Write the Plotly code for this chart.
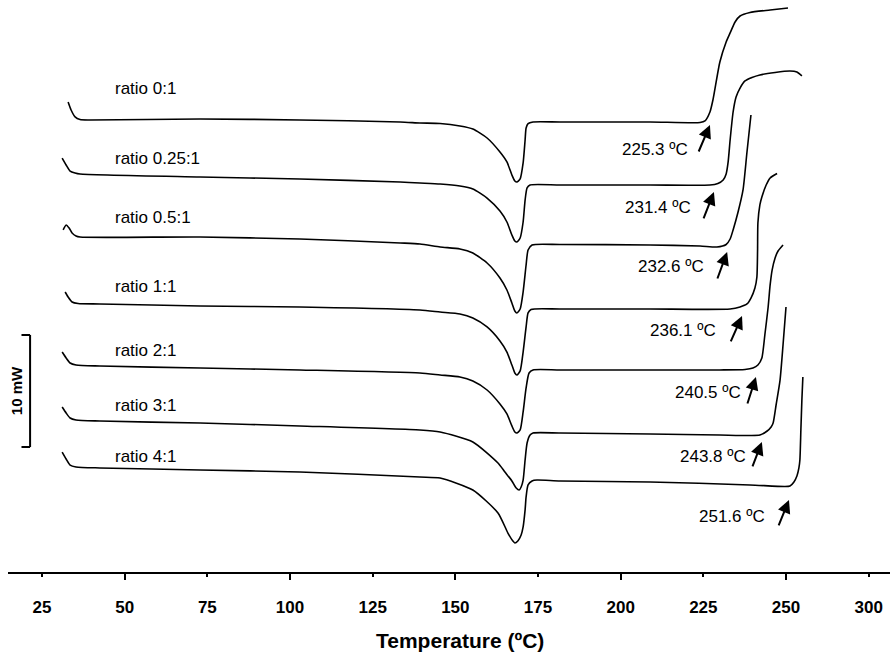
import plotly.graph_objects as go

# ---------------- data (temperature in deg C, heat flow in mW, stacked offsets) ----------------
T_0_1 = [32.9, 33.8, 35.0, 36.5, 39.5, 72.8, 103.0, 133.3, 139.3, 145.4, 151.4, 155.3, 159.6, 163.5,
         165.6, 167.1, 168.0, 168.6, 169.6, 170.5, 171.1, 171.4, 172.0, 173.5, 181.7, 208.9, 224.0,
         225.5, 227.0, 227.9, 230.0, 231.9, 233.1, 234.6, 236.1, 239.1, 245.2, 250.6]
HF_0_1 = [41.96, 41.25, 40.63, 40.40, 40.36, 40.45, 40.36, 40.18, 40.09, 40.04, 39.82, 39.55, 38.75, 37.50,
          36.61, 35.45, 34.91, 34.82, 35.09, 36.52, 38.57, 39.64, 40.04, 40.18, 40.18, 40.18, 40.13,
          40.27, 41.07, 42.14, 45.54, 47.32, 48.13, 49.11, 49.64, 49.96, 50.18, 50.36]

T_025_1 = [31.1, 32.3, 33.5, 35.0, 36.5, 72.8, 103.0, 133.3, 139.3, 145.4, 151.4, 155.3, 159.6, 163.5,
           165.6, 167.1, 168.0, 168.6, 169.6, 170.5, 171.1, 171.7, 172.6, 181.7, 208.9, 227.0, 229.4,
           231.0, 231.9, 232.5, 233.1, 234.0, 234.9, 236.1, 237.6, 239.7, 242.1, 246.7, 251.2, 253.3, 254.8]
HF_025_1 = [36.96, 36.34, 35.80, 35.63, 35.54, 35.27, 35.09, 34.82, 34.73, 34.64, 34.46, 34.20, 33.39, 32.23,
            31.25, 30.09, 29.55, 29.46, 29.82, 31.25, 33.21, 34.29, 34.55, 34.55, 34.55, 34.55, 34.69,
            35.00, 35.54, 36.61, 38.57, 41.07, 42.41, 43.21, 43.84, 44.15, 44.38, 44.60, 44.73, 44.64, 44.29]

T_05_1 = [31.4, 32.3, 33.2, 34.1, 35.3, 36.5, 72.8, 103.0, 133.3, 139.3, 145.4, 151.4, 155.3, 159.6,
          163.5, 165.6, 167.1, 168.0, 168.6, 169.6, 170.5, 171.4, 172.0, 173.2, 181.7, 208.9, 224.0,
          229.1, 231.9, 233.1, 234.0, 235.5, 237.0, 238.2, 239.4]
HF_05_1 = [30.54, 30.98, 30.71, 30.27, 30.00, 29.91, 29.91, 29.73, 29.38, 29.29, 29.02, 28.84, 28.48, 27.59,
           26.25, 25.18, 24.02, 23.30, 23.13, 23.48, 25.00, 27.41, 28.75, 29.20, 29.24, 29.20, 29.11,
           29.02, 29.24, 29.73, 30.54, 32.14, 34.11, 37.50, 40.80]

T_1_1 = [32.0, 32.9, 34.1, 35.9, 42.5, 72.8, 103.0, 139.3, 145.4, 151.4, 155.3, 159.6, 163.5, 165.6,
         167.1, 168.0, 168.6, 169.6, 170.5, 171.4, 172.0, 172.9, 181.7, 208.9, 233.1, 236.1, 238.2,
         239.4, 240.6, 241.2, 241.4, 241.5, 242.1, 242.7, 244.0, 245.2, 247.3]
HF_1_1 = [25.00, 24.55, 24.11, 23.97, 23.93, 23.75, 23.66, 23.39, 23.21, 23.04, 22.68, 21.88, 20.63, 19.64,
          18.48, 17.77, 17.59, 17.95, 19.64, 21.88, 23.13, 23.44, 23.48, 23.48, 23.48, 23.66, 23.93,
          24.46, 25.36, 26.34, 28.75, 31.16, 32.77, 33.48, 34.55, 35.18, 35.58]

T_2_1 = [31.1, 32.3, 33.5, 35.3, 42.5, 72.8, 103.0, 139.3, 145.4, 151.4, 155.3, 159.6, 163.5, 165.6,
         167.1, 168.0, 168.6, 169.6, 170.5, 171.4, 172.3, 173.5, 181.7, 208.9, 230.0, 237.6, 240.0,
         241.5, 242.7, 243.6, 244.6, 245.2, 245.8, 246.7, 247.6, 249.1]
HF_2_1 = [19.64, 19.11, 18.66, 18.48, 18.39, 18.21, 18.04, 17.77, 17.59, 17.41, 17.05, 16.25, 15.00, 14.11,
          13.04, 12.50, 12.41, 12.68, 14.29, 16.43, 17.77, 18.04, 18.04, 18.04, 18.04, 18.08, 18.21,
          18.48, 19.11, 21.16, 23.66, 25.63, 26.96, 28.04, 28.66, 29.20]

T_3_1 = [31.1, 32.3, 33.5, 35.3, 42.5, 72.8, 103.0, 139.3, 145.4, 155.3, 162.9, 165.0, 167.1, 168.4,
         169.3, 169.9, 170.5, 171.1, 171.7, 172.6, 173.5, 181.7, 208.9, 230.0, 239.1, 242.1, 244.3,
         245.5, 246.1, 247.0, 248.2, 249.1, 250.0]
HF_3_1 = [14.73, 14.20, 13.75, 13.57, 13.48, 13.30, 13.04, 12.68, 12.50, 11.61, 9.73, 8.93, 8.13, 7.50,
          7.32, 7.59, 8.21, 10.00, 11.52, 12.23, 12.41, 12.41, 12.32, 12.23, 12.19, 12.23, 12.59,
          12.95, 13.30, 14.91, 17.14, 20.27, 23.66]

T_4_1 = [31.1, 32.3, 33.5, 35.3, 42.5, 72.8, 103.0, 139.3, 145.4, 155.3, 162.9, 165.9, 167.4, 168.0,
         168.9, 169.9, 170.5, 171.1, 171.4, 172.0, 173.2, 174.7, 181.7, 208.9, 239.1, 249.7, 251.2,
         252.4, 253.3, 253.9, 254.2, 254.5, 254.8, 255.1]
HF_4_1 = [10.71, 10.09, 9.55, 9.38, 9.29, 9.11, 8.93, 8.48, 8.39, 7.32, 5.27, 3.48, 2.77, 2.59,
          2.77, 3.30, 4.02, 5.54, 6.70, 7.77, 8.13, 8.21, 8.13, 8.04, 7.77, 7.63, 7.68,
          8.04, 8.57, 9.29, 10.00, 12.68, 15.36, 17.41]

series_T = [T_0_1, T_025_1, T_05_1, T_1_1, T_2_1, T_3_1, T_4_1]
series_HF = [HF_0_1, HF_025_1, HF_05_1, HF_1_1, HF_2_1, HF_3_1, HF_4_1]

ratio_labels = ["ratio 0:1", "ratio 0.25:1", "ratio 0.5:1", "ratio 1:1", "ratio 2:1", "ratio 3:1", "ratio 4:1"]
ratio_label_T = 46.5
ratio_label_HF = [43.21, 36.96, 31.61, 25.45, 19.82, 14.91, 10.27]

onset_text = ["225.3 ºC", "231.4 ºC", "232.6 ºC", "236.1 ºC", "240.5 ºC", "243.8 ºC", "251.6 ºC"]
onset_text_T = [221.0, 221.9, 225.8, 229.4, 237.0, 238.5, 244.3]
onset_text_HF = [37.68, 32.50, 27.32, 21.52, 16.07, 10.27, 5.00]
arrow_tail_T = [223.4, 224.9, 229.1, 233.1, 238.2, 239.7, 247.6]
arrow_tail_HF = [37.41, 31.43, 26.07, 20.45, 14.91, 9.29, 4.02]
arrow_head_T = [227.0, 228.2, 232.2, 236.7, 240.9, 242.7, 250.9]
arrow_head_HF = [39.91, 33.93, 28.57, 22.86, 17.41, 11.61, 6.43]

tick_vals = [25, 50, 75, 100, 125, 150, 175, 200, 225, 250, 275]
tick_text = ["25", "50", "75", "100", "125", "150", "175", "200", "225", "250", "300"]
major_tick_vals = [50, 100, 150, 200, 250]

scale_bar_T = 21.4
scale_bar_HF = [11.16, 21.16]   # 10 mW
scale_bar_label = "10 mW"

x_range = [14.72, 281.45]
y_range = [0, 51.07]

# ---------------- figure ----------------
fig = go.Figure()
for T, HF, name in zip(series_T, series_HF, ratio_labels):
    fig.add_trace(go.Scatter(x=T, y=HF, mode="lines", name=name,
                             line=dict(color="black", width=1.6, shape="spline", smoothing=0.6),
                             showlegend=False, hoverinfo="skip"))

# invisible trace for the overlay axis carrying the long ticks
fig.add_trace(go.Scatter(x=[x_range[0]], y=[y_range[0]], xaxis="x2", mode="markers",
                         marker=dict(opacity=0), showlegend=False, hoverinfo="skip"))

label_font = dict(family="Liberation Sans, Arial, sans-serif", size=17, color="black")
for txt, hf in zip(ratio_labels, ratio_label_HF):
    fig.add_annotation(x=ratio_label_T, y=hf, text=txt, showarrow=False,
                       xanchor="left", yanchor="middle", font=label_font)

for txt, tx, ty, t0, h0, t1, h1 in zip(onset_text, onset_text_T, onset_text_HF,
                                        arrow_tail_T, arrow_tail_HF, arrow_head_T, arrow_head_HF):
    fig.add_annotation(x=tx, y=ty, text=txt, showarrow=False, xanchor="right", yanchor="middle",
                       font=label_font)
    fig.add_annotation(x=t1, y=h1, ax=t0, ay=h0, axref="x", ayref="y", xref="x", yref="y",
                       text="", showarrow=True, arrowhead=2, arrowsize=1.3, arrowwidth=2,
                       arrowcolor="black")

# scale bar
fig.add_shape(type="line", x0=scale_bar_T, x1=scale_bar_T, y0=scale_bar_HF[0], y1=scale_bar_HF[1],
              line=dict(color="black", width=2))
for hf in scale_bar_HF:
    fig.add_shape(type="line", x0=scale_bar_T - 2.6, x1=scale_bar_T, y0=hf, y1=hf,
                  line=dict(color="black", width=2))
fig.add_annotation(x=scale_bar_T - 4.2, y=sum(scale_bar_HF) / 2, text="<b>" + scale_bar_label + "</b>",
                   textangle=-90, showarrow=False, xanchor="center", yanchor="middle",
                   font=dict(family="Liberation Sans, Arial, sans-serif", size=15, color="black"))

# axis title
fig.add_annotation(xref="paper", yref="paper", x=0.5125, y=-0.119, text="<b>Temperature (ºC)</b>",
                   showarrow=False, xanchor="center", yanchor="middle",
                   font=dict(family="Liberation Sans, Arial, sans-serif", size=21, color="black"))

tick_font = dict(family="Liberation Sans, Arial, sans-serif", size=17, color="black")

fig.update_layout(
    width=896, height=654,
    margin=dict(l=8, r=6, t=0, b=82),
    paper_bgcolor="white", plot_bgcolor="white",
    xaxis=dict(range=x_range, showline=True, linecolor="black", linewidth=2,
               tickmode="array", tickvals=tick_vals, ticktext=["<b>" + t + "</b>" for t in tick_text],
               ticks="outside", ticklen=3, tickwidth=2, tickcolor="black",
               tickfont=tick_font, ticklabelstandoff=16,
               showgrid=False, zeroline=False, fixedrange=True),
    xaxis2=dict(range=x_range, overlaying="x", anchor="y", side="bottom",
                tickmode="array", tickvals=major_tick_vals, ticks="outside", ticklen=7, tickwidth=2,
                tickcolor="black", showticklabels=False, showline=False, showgrid=False, zeroline=False),
    yaxis=dict(range=y_range, visible=False, fixedrange=True),
)

fig.write_html("out.html")
